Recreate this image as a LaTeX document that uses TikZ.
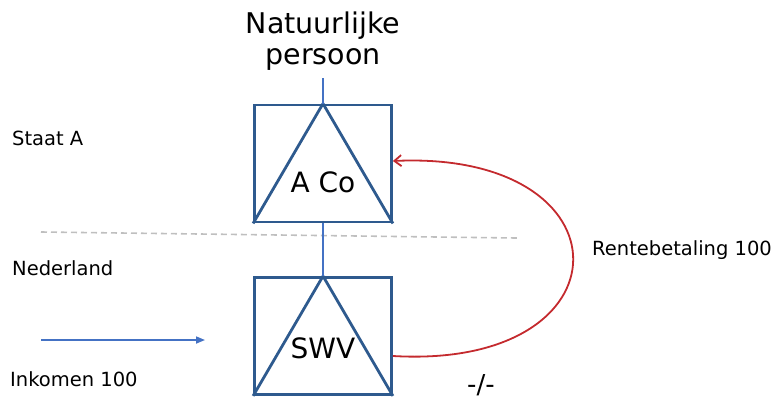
\documentclass[tikz,border=0pt]{standalone}
\usepackage{fontspec}
\setmainfont{DejaVu Sans}
\usetikzlibrary{arrows.meta}

\definecolor{boxblue}{HTML}{2E5A8E}
\definecolor{linkblue}{HTML}{4472C4}
\definecolor{payred}{HTML}{C42A2E}
\definecolor{dashgray}{HTML}{BFBFBF}

\begin{document}
\begin{tikzpicture}
            \tikzset{x=1pt, y=-1pt}
            \tikzstyle{entity}=[rectangle, draw=boxblue, line width=2.8pt, minimum width=137pt, minimum height=117pt, inner sep=0pt]
            \tikzstyle{ename}=[font=\fontsize{28}{30}\selectfont, inner sep=0pt]
            \tikzstyle{lbl}=[anchor=west, font=\fontsize{19.5}{23}\selectfont, inner sep=0pt]
            \tikzstyle{link}=[draw=linkblue, line width=1.6pt]

            \useasboundingbox (0,0) rectangle (775,400);

            \draw (323, 41)     node[font=\fontsize{28.5}{31}\selectfont, align=center, inner sep=8pt] (person) {Natuurlijke\\persoon};

            \draw (323, 163.5)  node[entity]    (aco)   {};
            \draw (323, 336.0)  node[entity]    (swv)   {};
            \draw (aco.south west) -- (aco.north) -- (aco.south east) [draw=boxblue, line width=2.8pt, line join=round];
            \draw (swv.south west) -- (swv.north) -- (swv.south east) [draw=boxblue, line width=2.8pt, line join=round];
            \draw (323, 182.0)  node[ename]     (acot)  {A Co};
            \draw (323, 348.0)  node[ename]     (swvt)  {SWV};

            \draw (12, 138)     node[lbl]       (staat) {Staat A};
            \draw (12, 268)     node[lbl]       (nl)    {Nederland};
            \draw (10, 379)     node[lbl]       (ink)   {Inkomen 100};
            \draw (592, 250)    node[lbl]       (rente) {Rentebetaling 100};
            \draw (467, 385)    node[lbl, font=\fontsize{26}{28}\selectfont] (niet) {-/-};

            \coordinate (dl) at (41, 232);
            \coordinate (dr) at (517, 238);
            \coordinate (in0) at (41, 340);
            \coordinate (in1) at (205, 340);

            \draw [dashgray, line width=1.6pt, dash pattern=on 6pt off 4pt] (dl) -- (dr);
            \draw [link] (person) -- (aco);
            \draw [link] (aco) -- (swv);
            \draw [link, -{Triangle[length=9pt, width=7pt]}] (in0) -- (in1);
            \draw [payred, line width=1.8pt, -{Straight Barb[length=7pt, width=11pt]}]
                ([yshift=-20pt]swv.east) .. controls +(240,14) and +(240,-11) .. ([yshift=2.5pt]aco.east);
        \end{tikzpicture}
\end{document}
